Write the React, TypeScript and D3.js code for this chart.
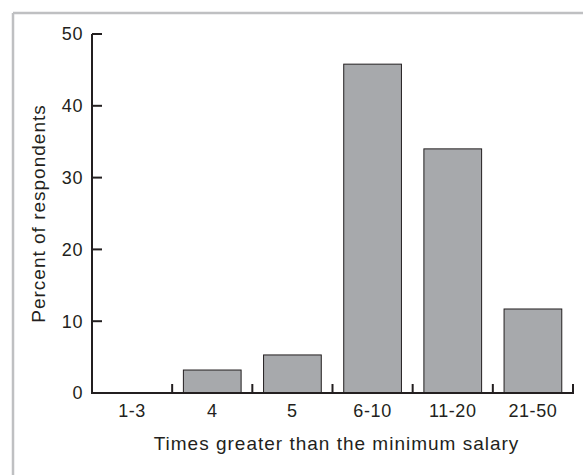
import React from "react";
import * as d3 from "d3";

const categories = ["1-3", "4", "5", "6-10", "11-20", "21-50"];
const values = [0, 3.2, 5.3, 45.8, 34.0, 11.7];
const yTicks = [0, 10, 20, 30, 40, 50];
const xTitle = "Times greater than the minimum salary";
const yTitle = "Percent of respondents";

const W = 583;
const H = 475;
const left = 92;
const right = 573;
const top = 34;
const bottom = 393;
const ink = "#231f20";
const font = "'Liberation Sans', Arial, Helvetica, sans-serif";

export default function App() {
  const x = d3.scaleBand<string>().domain(categories).range([left, right]).padding(0);
  const y = d3.scaleLinear().domain([0, 50]).range([bottom, top]);
  const step = x.bandwidth();
  const barPad = step * 0.14;
  const barW = step * 0.72;
  const boundaries = categories.map((c) => (x(c) as number) + step);

  return (
    <div style={{ position: "fixed", left: 0, top: 0 }}>
      <svg width={W} height={H} style={{ display: "block", background: "#fff" }}>
        <line x1={13} y1={13} x2={W} y2={13} stroke="#bfc0c2" strokeWidth={2.5} />
        <line x1={13} y1={13} x2={13} y2={H} stroke="#bfc0c2" strokeWidth={2.5} />

        {categories.map((c, i) => (
          <rect
            key={c}
            x={(x(c) as number) + barPad}
            y={y(values[i])}
            width={barW}
            height={bottom - y(values[i])}
            fill="#a7a9ac"
            stroke={ink}
            strokeWidth={1}
          />
        ))}

        <line x1={left} y1={top} x2={left} y2={bottom} stroke={ink} strokeWidth={2} />
        <line x1={left - 1} y1={bottom} x2={right + 1} y2={bottom} stroke={ink} strokeWidth={2} />
        {yTicks.map((t) => (
          <g key={t}>
            <line x1={left} x2={left + 10} y1={y(t)} y2={y(t)} stroke={ink} strokeWidth={2} />
            <text
              x={left - 9}
              y={y(t)}
              dy="0.35em"
              textAnchor="end"
              fontFamily={font}
              fontSize={18}
              letterSpacing={0.6}
              fill={ink}
            >
              {t}
            </text>
          </g>
        ))}
        {boundaries.map((b, i) => (
          <line key={i} x1={b} x2={b} y1={bottom} y2={bottom - 9} stroke={ink} strokeWidth={2} />
        ))}
        {categories.map((c) => (
          <text
            key={c}
            x={(x(c) as number) + step / 2}
            y={411}
            dy="0.35em"
            textAnchor="middle"
            fontFamily={font}
            fontSize={18}
            letterSpacing={0.6}
            fill={ink}
          >
            {c}
          </text>
        ))}
        <text
          x={(left + right) / 2 + 4}
          y={450}
          textAnchor="middle"
          fontFamily={font}
          fontSize={19}
          letterSpacing={1}
          fill={ink}
        >
          {xTitle}
        </text>
        <text
          transform={`translate(38,${(top + bottom) / 2}) rotate(-90)`}
          dy="0.35em"
          textAnchor="middle"
          fontFamily={font}
          fontSize={19}
          letterSpacing={1}
          fill={ink}
        >
          {yTitle}
        </text>
      </svg>
    </div>
  );
}
